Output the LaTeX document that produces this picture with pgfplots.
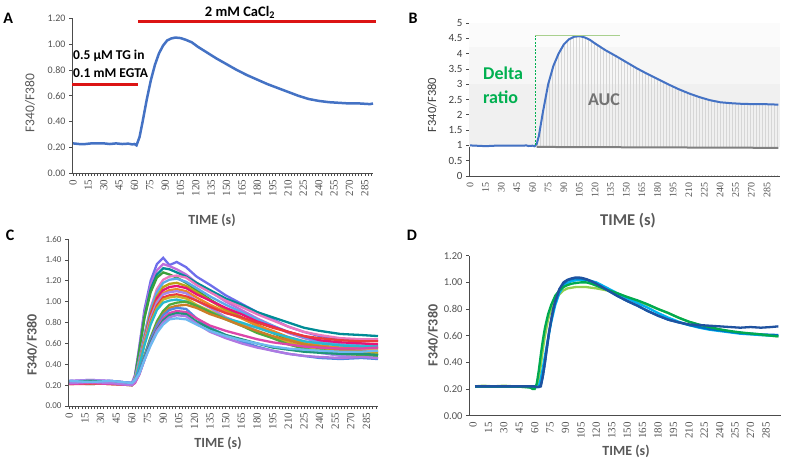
\documentclass[border=0pt]{standalone}
\usepackage{fontspec}
\setmainfont{Carlito}
\newfontfamily\serifnum{Liberation Serif}
\usepackage{pgfplots}
\pgfplotsset{compat=1.18}
\usepackage{pgfplotstable}
\usetikzlibrary{patterns.meta}

\definecolor{xlblue}{RGB}{68,114,196}
\definecolor{xred}{RGB}{220,20,20}
\definecolor{xgreen}{RGB}{0,176,80}
\definecolor{lgreen}{RGB}{169,208,142}
\definecolor{txtgray}{RGB}{89,89,89}
\definecolor{dblue}{RGB}{31,82,160}
\definecolor{mblue}{RGB}{0,112,192}
\definecolor{cblue}{RGB}{0,176,240}
\definecolor{dgreen}{RGB}{0,170,80}
\definecolor{ligreen}{RGB}{146,208,80}
\definecolor{c1}{RGB}{110,110,235}
\definecolor{c2}{RGB}{190,110,220}
\definecolor{c3}{RGB}{0,140,150}
\definecolor{c4}{RGB}{60,160,60}
\definecolor{c5}{RGB}{235,120,190}
\definecolor{c6}{RGB}{90,170,235}
\definecolor{c7}{RGB}{190,160,20}
\definecolor{c8}{RGB}{230,20,120}
\definecolor{c9}{RGB}{235,135,40}
\definecolor{c10}{RGB}{165,135,235}
\definecolor{c11}{RGB}{235,60,60}
\definecolor{c12}{RGB}{205,175,40}
\definecolor{c13}{RGB}{40,185,205}
\definecolor{c14}{RGB}{80,170,60}
\definecolor{c15}{RGB}{205,125,40}
\definecolor{c16}{RGB}{80,135,225}
\definecolor{c17}{RGB}{220,70,170}
\definecolor{c18}{RGB}{30,150,120}
\definecolor{c19}{RGB}{175,120,225}
\definecolor{c20}{RGB}{110,185,240}

\pgfplotstableread{
t c1 c2 c3 c4 c5 c6 c7 c8 c9 c10 c11 c12 c13 c14 c15 c16 c17 c18 c19 c20
0 0.23 0.24 0.22 0.23 0.22 0.24 0.21 0.23 0.22 0.24 0.21 0.23 0.22 0.23 0.22 0.24 0.21 0.23 0.22 0.24
20 0.22 0.25 0.21 0.24 0.23 0.23 0.22 0.24 0.22 0.25 0.21 0.22 0.23 0.24 0.22 0.23 0.22 0.24 0.23 0.23
40 0.23 0.24 0.22 0.23 0.22 0.24 0.21 0.23 0.23 0.24 0.22 0.23 0.22 0.23 0.21 0.24 0.21 0.23 0.22 0.24
60 0.21 0.22 0.20 0.21 0.21 0.22 0.20 0.21 0.21 0.22 0.20 0.21 0.21 0.21 0.20 0.22 0.20 0.21 0.20 0.22
63 0.28 0.30 0.27 0.28 0.25 0.27 0.24 0.26 0.25 0.27 0.24 0.25 0.24 0.24 0.23 0.25 0.22 0.24 0.23 0.25
67 0.56 0.55 0.52 0.52 0.43 0.44 0.40 0.41 0.40 0.41 0.38 0.39 0.38 0.32 0.31 0.33 0.30 0.31 0.30 0.31
72 0.92 0.89 0.85 0.84 0.68 0.68 0.65 0.64 0.63 0.63 0.60 0.60 0.58 0.48 0.47 0.47 0.44 0.45 0.44 0.44
78 1.20 1.16 1.12 1.09 0.94 0.93 0.89 0.87 0.85 0.84 0.81 0.80 0.78 0.66 0.64 0.64 0.61 0.61 0.59 0.58
84 1.36 1.30 1.26 1.23 1.12 1.09 1.05 1.03 1.00 0.99 0.96 0.94 0.92 0.81 0.78 0.77 0.74 0.73 0.72 0.70
90 1.42 1.36 1.32 1.28 1.21 1.18 1.14 1.11 1.08 1.07 1.04 1.02 0.99 0.91 0.88 0.87 0.84 0.82 0.80 0.78
96 1.35 1.34 1.31 1.26 1.24 1.21 1.17 1.14 1.11 1.09 1.06 1.04 1.01 0.97 0.94 0.92 0.89 0.87 0.85 0.83
103 1.38 1.31 1.28 1.23 1.25 1.22 1.18 1.15 1.12 1.10 1.07 1.05 1.02 0.99 0.96 0.94 0.91 0.89 0.87 0.84
112 1.33 1.26 1.24 1.18 1.23 1.19 1.15 1.13 1.10 1.08 1.05 1.03 1.00 1.00 0.97 0.93 0.90 0.88 0.86 0.83
122 1.24 1.18 1.18 1.11 1.16 1.13 1.09 1.07 1.04 1.01 1.01 0.97 0.96 0.96 0.94 0.84 0.84 0.81 0.79 0.78
135 1.16 1.10 1.11 1.02 1.09 1.05 1.01 1.01 0.97 0.94 0.95 0.91 0.90 0.90 0.88 0.75 0.77 0.74 0.71 0.72
150 1.06 1.00 1.03 0.93 1.01 0.97 0.92 0.94 0.90 0.85 0.89 0.84 0.84 0.83 0.83 0.68 0.72 0.68 0.65 0.67
165 0.98 0.92 0.97 0.85 0.95 0.90 0.85 0.88 0.84 0.79 0.85 0.78 0.80 0.77 0.77 0.62 0.68 0.64 0.60 0.63
180 0.90 0.84 0.90 0.77 0.88 0.83 0.78 0.81 0.77 0.72 0.80 0.71 0.75 0.70 0.72 0.57 0.64 0.60 0.56 0.60
195 0.83 0.77 0.85 0.70 0.82 0.77 0.71 0.76 0.72 0.65 0.75 0.66 0.70 0.65 0.67 0.53 0.61 0.56 0.53 0.57
210 0.76 0.70 0.80 0.64 0.76 0.71 0.65 0.71 0.66 0.60 0.71 0.61 0.66 0.59 0.63 0.50 0.59 0.54 0.50 0.55
225 0.71 0.65 0.75 0.59 0.71 0.66 0.60 0.67 0.62 0.55 0.67 0.57 0.62 0.55 0.59 0.48 0.57 0.52 0.48 0.54
240 0.67 0.61 0.72 0.55 0.68 0.62 0.56 0.63 0.58 0.51 0.65 0.53 0.60 0.52 0.57 0.46 0.56 0.51 0.47 0.53
260 0.64 0.58 0.69 0.52 0.65 0.59 0.53 0.61 0.56 0.48 0.63 0.51 0.58 0.50 0.54 0.45 0.55 0.50 0.46 0.52
280 0.62 0.56 0.68 0.50 0.64 0.58 0.52 0.60 0.55 0.47 0.62 0.50 0.57 0.49 0.53 0.46 0.55 0.50 0.47 0.52
296 0.63 0.57 0.67 0.49 0.64 0.59 0.51 0.59 0.55 0.46 0.62 0.50 0.57 0.48 0.53 0.45 0.56 0.49 0.46 0.53
}\tblC

\pgfplotstableread{
t r
0 1.0
6 0.99
12 0.98
18 0.98
24 0.99
30 0.99
40 0.99
50 0.99
54 1.0
56 0.98
60 0.99
62 0.97
64 1.05
66 1.3
70 2.1
75 3.0
80 3.6
85 4.0
90 4.3
95 4.47
100 4.55
105 4.57
110 4.53
115 4.45
120 4.33
125 4.22
130 4.11
140 3.92
150 3.72
160 3.52
170 3.34
180 3.17
190 3.0
200 2.84
210 2.7
220 2.58
230 2.48
240 2.41
250 2.38
260 2.36
270 2.35
280 2.35
290 2.34
296 2.33
}\tblB

\pgfplotsset{
  panel/.style={scale only axis, anchor=south west, clip=false,
    axis lines*=left, axis line style={draw=black!70, line width=0.7pt},
    tick align=outside, major tick length=3pt, minor tick length=3pt,
    tick style={black!70, line width=0.6pt},
    /pgf/number format/assume math mode=true,
    x tick label style={rotate=90, anchor=east, font=\serifnum\fontsize{11}{11}\selectfont, text=black!68},
    y tick label style={text=black!68},
    xtick={0,15,...,285}, ymin=0},
  twodec/.style={yticklabel={\pgfmathprintnumber[fixed,fixed zerofill,precision=2]{\tick}}}
}

\begin{document}
\begin{tikzpicture}[x=1pt,y=1pt]
\useasboundingbox (0,0) rectangle (787,464);

% ---------------- Panel A
\begin{axis}[panel, twodec, at={(72pt,291pt)}, width=301pt, height=154.5pt,
  xmin=-1, xmax=293, ymax=1.2, ytick={0,0.2,0.4,0.6,0.8,1.0,1.2},
  minor xtick={0,3,...,294},
  y tick label style={font=\fontsize{10}{10}\selectfont}]
\addplot[xlblue, line width=2.5pt] coordinates {
(0,0.23) (6,0.225) (12,0.225) (18,0.23) (24,0.23) (30,0.23) (36,0.225) (42,0.23)
(48,0.225) (54,0.228) (58,0.222) (60,0.225) (62,0.215) (65,0.28) (68,0.40) (72,0.57)
(76,0.72) (80,0.84) (84,0.93) (88,0.99) (92,1.03) (96,1.045) (100,1.052) (105,1.048)
(110,1.035) (116,1.015) (122,0.98) (130,0.94) (140,0.89) (150,0.845) (160,0.80)
(170,0.76) (180,0.725) (190,0.69) (200,0.66) (210,0.63) (220,0.60) (230,0.575)
(240,0.56) (250,0.55) (260,0.545) (270,0.54) (280,0.54) (290,0.535) (293,0.54)};
\draw[xred, line width=3pt] (axis cs:63.4,1.18) -- (axis cs:295.7,1.18);
\draw[xred, line width=3pt] (axis cs:-1,0.691) -- (axis cs:63.4,0.691);
\end{axis}

% ---------------- Panel B
\begin{axis}[panel, at={(469pt,288pt)}, width=311pt, height=153pt,
  xmin=-1, xmax=297.5, ymax=5, ytick={0,0.5,1,1.5,2,2.5,3,3.5,4,4.5,5},
  yticklabel={\pgfmathprintnumber[fixed,precision=1]{\tick}},
  y tick label style={font=\fontsize{11}{11}\selectfont, text=black!75},
  x tick label style={font=\serifnum\fontsize{10}{10}\selectfont},
  xtick style={draw=none}, extra x ticks={-1,34.5,70,105.5,141,176.5,212,247.5,283},
  extra x tick labels={}, extra x tick style={tick style={draw=black!70}}]
\fill[black!6] (axis cs:-1,0.95) rectangle (axis cs:297.5,5);
\fill[black!3.5] (axis cs:-1,3) rectangle (axis cs:297.5,5);
\fill[black!1.5] (axis cs:-1,4.2) rectangle (axis cs:297.5,5);
\addplot[pattern={Lines[angle=90, distance=3pt, line width=0.4pt]}, pattern color=black!16, draw=none, restrict x to domain=64:300] table[x=t, y=r]{\tblB} \closedcycle;
\fill[white] (axis cs:64,0.02) rectangle (axis cs:297.5,0.93);
\addplot[black!50, line width=2pt] coordinates {(64,0.95) (296,0.92)};
\addplot[xlblue, line width=2pt] table[x=t, y=r]{\tblB};
\draw[xgreen, dash pattern=on 2pt off 1.5pt, line width=1pt] (axis cs:62.4,1.0) -- (axis cs:62.4,4.58);
\draw[lgreen, line width=1pt] (axis cs:62.4,4.58) -- (axis cs:144,4.58);
\end{axis}

% ---------------- Panel C
\begin{axis}[panel, twodec, at={(68pt,58pt)}, width=310pt, height=167pt,
  xmin=-1.25, xmax=296, ymax=1.6, ytick={0,0.2,0.4,0.6,0.8,1.0,1.2,1.4,1.6},
  minor xtick={0,3,...,294},
  y tick label style={font=\fontsize{9}{9}\selectfont},
  every axis plot/.append style={line width=2.3pt},
  cycle list={{c1},{c2},{c3},{c4},{c5},{c6},{c7},{c8},{c9},{c10},{c11},{c12},{c13},{c14},{c15},{c16},{c17},{c18},{c19},{c20}}]
\pgfplotsinvokeforeach{1,...,20}{\addplot table[x=t, y=c#1]{\tblC};}
\end{axis}

% ---------------- Panel D
\begin{axis}[panel, twodec, at={(469pt,48.3pt)}, width=312pt, height=160pt,
  xmin=-3.9, xmax=299.6, ymax=1.2, ytick={0,0.2,0.4,0.6,0.8,1.0,1.2},
  y tick label style={font=\fontsize{10.5}{11}\selectfont},
  xtick style={draw=none}, extra x ticks={-3,33.4,69.8,106.2,142.6,179,215.4,251.8,288.2},
  extra x tick labels={}, extra x tick style={tick style={draw=black!70}}]
\addplot[ligreen, line width=2.3pt] coordinates {
(2,0.22) (10,0.225) (20,0.22) (30,0.225) (40,0.22) (50,0.215) (56,0.22) (60,0.215)
(62,0.22) (64,0.28) (66,0.38) (68,0.50) (70,0.60) (73,0.72) (76,0.80) (80,0.87)
(84,0.91) (88,0.94) (92,0.955) (96,0.96) (100,0.965) (105,0.965) (110,0.965) (115,0.96)
(120,0.955) (130,0.94) (140,0.915) (150,0.89) (160,0.86) (170,0.83) (180,0.80)
(190,0.77) (200,0.735) (210,0.705) (220,0.68) (230,0.66) (240,0.645) (250,0.63)
(260,0.62) (270,0.612) (280,0.605) (290,0.60) (297,0.595)};
\addplot[cblue, line width=2.3pt] coordinates {
(2,0.22) (10,0.22) (20,0.22) (30,0.22) (40,0.22) (50,0.22) (56,0.22) (60,0.22)
(62,0.215) (64,0.22) (66,0.28) (68,0.36) (70,0.45) (73,0.58) (76,0.70) (80,0.83)
(84,0.92) (88,0.97) (92,0.995) (96,1.01) (100,1.015) (105,1.02) (110,1.02) (115,1.01)
(120,1.0) (130,0.96) (140,0.92) (150,0.88) (160,0.845) (170,0.81) (180,0.77)
(190,0.735) (200,0.705) (210,0.68) (220,0.66) (230,0.645) (240,0.635) (250,0.625)
(260,0.615) (270,0.61) (280,0.605) (290,0.60) (297,0.60)};
\addplot[mblue, line width=2.3pt] coordinates {
(2,0.22) (10,0.22) (20,0.22) (30,0.22) (40,0.22) (50,0.22) (56,0.22) (60,0.22)
(62,0.215) (64,0.215) (66,0.23) (68,0.30) (70,0.40) (72,0.51) (74,0.62) (76,0.71)
(78,0.79) (80,0.85) (84,0.94) (88,0.99) (92,1.015) (96,1.025) (100,1.03) (105,1.03)
(110,1.02) (115,1.005) (120,0.985) (130,0.945) (140,0.90) (150,0.86) (160,0.825)
(170,0.785) (180,0.75) (190,0.72) (200,0.70) (210,0.68) (220,0.665) (230,0.65)
(240,0.64) (250,0.63) (260,0.62) (270,0.615) (280,0.61) (290,0.607) (297,0.605)};
\addplot[dgreen, line width=2.3pt] coordinates {
(2,0.22) (10,0.22) (20,0.22) (30,0.22) (40,0.22) (50,0.215) (56,0.21) (58,0.20)
(60,0.20) (62,0.24) (64,0.34) (66,0.46) (68,0.57) (70,0.66) (73,0.76) (76,0.83)
(80,0.90) (84,0.94) (88,0.965) (92,0.98) (96,0.99) (100,0.995) (105,1.0) (110,1.0)
(115,0.99) (120,0.975) (130,0.945) (140,0.92) (150,0.89) (160,0.865) (170,0.835)
(180,0.80) (190,0.77) (200,0.735) (210,0.705) (220,0.683) (230,0.665) (240,0.648)
(250,0.635) (260,0.625) (270,0.617) (280,0.61) (290,0.60) (297,0.595)};
\addplot[dblue, line width=2.3pt] coordinates {
(2,0.22) (10,0.22) (20,0.22) (30,0.22) (40,0.22) (50,0.22) (56,0.22) (60,0.22)
(62,0.215) (64,0.215) (66,0.22) (68,0.30) (70,0.40) (72,0.52) (74,0.63) (76,0.72)
(78,0.80) (80,0.86) (84,0.95) (88,1.0) (92,1.02) (96,1.03) (100,1.037) (105,1.035)
(110,1.025) (115,1.01) (120,0.99) (130,0.945) (140,0.90) (150,0.86) (160,0.825)
(170,0.785) (180,0.75) (190,0.72) (200,0.70) (210,0.685) (220,0.68) (230,0.675)
(240,0.67) (250,0.665) (260,0.66) (270,0.665) (280,0.66) (290,0.665) (297,0.67)};
\end{axis}

% ---------------- texts
\node[font=\bfseries\fontsize{16}{16}\selectfont] at (8.3,445.7) {A};
\node[font=\bfseries\fontsize{16}{16}\selectfont] at (413,445.7) {B};
\node[font=\bfseries\fontsize{16}{16}\selectfont] at (10,229) {C};
\node[font=\bfseries\fontsize{16}{16}\selectfont] at (412,229) {D};

\node[rotate=90, text=txtgray, font=\fontsize{13.5}{13.5}\selectfont] at (30,361) {F340/F380};
\node[rotate=90, text=black!75, font=\fontsize{12.5}{13}\selectfont] at (432,359) {F340/F380};
\node[rotate=90, text=txtgray, font=\bfseries\fontsize{14}{14}\selectfont] at (32,119) {F340/F380};
\node[rotate=90, text=txtgray, font=\bfseries\fontsize{14}{14}\selectfont] at (433,128.5) {F340/F380};

\node[text=txtgray, font=\bfseries\fontsize{14}{14}\selectfont] at (212,244) {TIME (s)};
\node[text=txtgray, font=\bfseries\fontsize{16.5}{17}\selectfont] at (628,243.5) {TIME (s)};
\node[text=txtgray, font=\bfseries\fontsize{14}{14}\selectfont] at (218,20.7) {TIME (s)};
\node[text=txtgray, font=\bfseries\fontsize{14}{14}\selectfont] at (626,12.3) {TIME (s)};

\node[font=\bfseries\fontsize{14.5}{15}\selectfont] at (240,451.3) {2 mM CaCl\textsubscript{2}};
\node[anchor=west, font=\bfseries\fontsize{13.5}{14}\selectfont, inner sep=0pt] at (73,408) {0.5 µM TG in};
\node[anchor=west, font=\bfseries\fontsize{13.5}{14}\selectfont, inner sep=0pt] at (73,391.3) {0.1 mM EGTA};

\node[anchor=west, text=xgreen, font=\bfseries\fontsize{18}{18}\selectfont, inner sep=0pt] at (483,391) {Delta};
\node[anchor=west, text=xgreen, font=\bfseries\fontsize{18}{18}\selectfont, inner sep=0pt] at (483,367) {ratio};
\node[text=black!55, font=\bfseries\fontsize{18}{18}\selectfont] at (604,364) {AUC};
\end{tikzpicture}
\end{document}
